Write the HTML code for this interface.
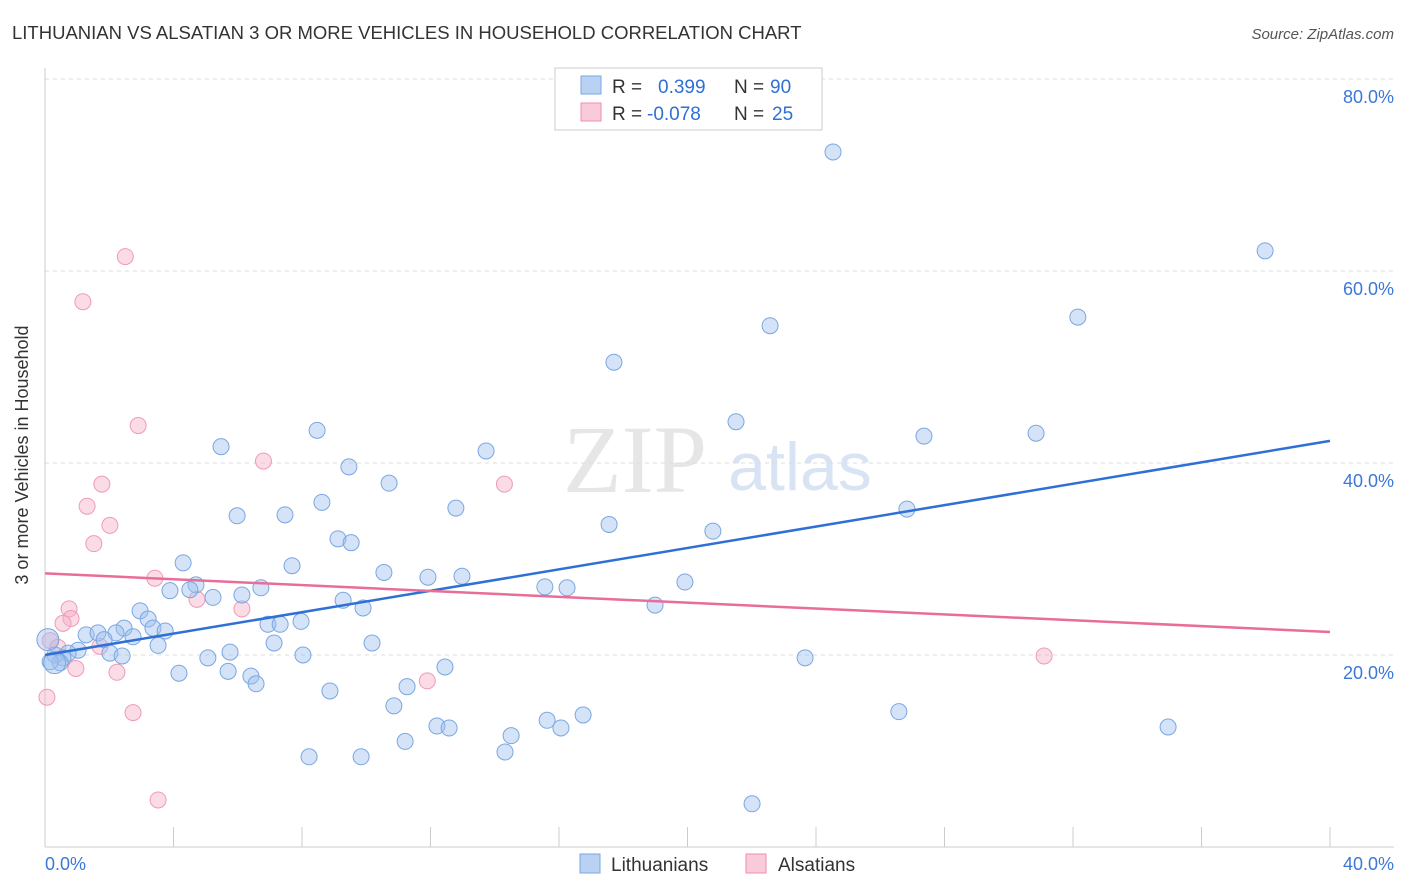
<!DOCTYPE html>
<html><head><meta charset="utf-8"><style>
body{margin:0;background:#fff;font-family:"Liberation Sans",sans-serif;}
svg{display:block}
</style></head><body>
<svg width="1406" height="892" xmlns="http://www.w3.org/2000/svg" id="chart">
<text x="12" y="39" font-size="18.5" fill="#333">LITHUANIAN VS ALSATIAN 3 OR MORE VEHICLES IN HOUSEHOLD CORRELATION CHART</text>
<text x="1394" y="39" font-size="15" fill="#555" font-style="italic" text-anchor="end">Source: ZipAtlas.com</text>
<text x="635" y="492" font-size="96" fill="#e6e6e6" font-family="Liberation Serif,serif" text-anchor="middle">ZIP</text>
<text x="800" y="490" font-size="68" fill="#d8e4f4" text-anchor="middle">atlas</text>
<g id="grid"></g>
<g id="axes"></g>
<g id="pts-pink"></g>
<g id="pts-blue"></g>
<g id="trends"></g>
<text x="28" y="455" font-size="18" fill="#333" text-anchor="middle" transform="rotate(-90 28 455)">3 or more Vehicles in Household</text>
<g>
<rect x="555" y="68" width="267" height="62" fill="#fff" stroke="#ccc"/>
<rect x="581" y="76" width="20" height="18" fill="#b9d1f3" stroke="#7aa7e0"/>
<rect x="581" y="103" width="20" height="18" fill="#f9cbd9" stroke="#f08cb0"/>
<text x="612" y="93" font-size="19" fill="#333">R = <tspan fill="#2f6fd6" x="658">0.399</tspan><tspan x="734" fill="#333">N = </tspan><tspan fill="#2f6fd6" x="770">90</tspan></text>
<text x="612" y="120" font-size="19" fill="#333">R = <tspan fill="#2f6fd6" x="647">-0.078</tspan><tspan x="734" fill="#333">N = </tspan><tspan fill="#2f6fd6" x="772">25</tspan></text>
</g>
<g>
<rect x="580" y="854" width="20" height="19" fill="#b9d1f3" stroke="#7aa7e0"/>
<text x="611" y="871" font-size="19" fill="#333">Lithuanians</text>
<rect x="746" y="854" width="20" height="19" fill="#f9cbd9" stroke="#f08cb0"/>
<text x="778" y="871" font-size="19" fill="#333">Alsatians</text>
</g>
<text x="45" y="870" font-size="18" fill="#3b78d8">0.0%</text>
<text x="1394" y="870" font-size="18" fill="#3b78d8" text-anchor="end">40.0%</text>
</svg>
<script>
const yTicks=[20,40,60,80];
const blueX=[24.53,37.98,22.57,32.15,17.71,21.51,27.36,30.85,8.47,5.48,13.73,9.46,10.71,5.98,7.47,8.62,12.79,17.56,20.79,26.83,9.12,9.53,4.3,7.69,10.55,11.92,12.98,15.56,16.25,19.92,4.7,3.89,4.51,5.23,6.13,6.72,9.28,9.9,18.99,2.96,3.21,2.46,3.36,3.74,6.94,7.32,7.97,1.28,1.65,2.21,1.84,2.74,3.52,5.76,7.13,10.18,5.07,8.03,2.02,2.4,1.03,0.72,0.56,0.31,0.47,0.16,23.66,4.17,5.7,6.41,6.57,8.87,12.45,11.27,10.86,26.58,12.2,12.58,15.63,16.06,16.75,34.96,14.51,11.21,14.32,8.22,9.84,22.01,0.09,0.3];
const blueY=[72.4,62.1,54.3,55.2,50.5,44.3,42.8,43.1,43.4,41.7,41.25,39.6,37.9,34.5,34.6,35.9,35.3,33.6,32.9,35.2,32.1,31.7,29.6,29.3,28.6,28.1,28.2,27.1,27.0,27.6,27.3,26.7,26.8,26.0,26.25,27.0,25.7,24.9,25.2,24.6,23.75,22.8,22.8,22.5,23.2,23.2,23.5,22.1,22.3,22.3,21.6,21.9,21.0,20.3,21.25,21.25,19.7,20.0,20.2,19.9,20.5,20.2,19.7,20.0,19.2,19.3,19.7,18.1,18.3,17.8,17.0,16.25,18.75,16.7,14.7,14.1,12.6,12.4,13.2,12.4,13.75,12.5,11.6,11.0,9.9,9.4,9.4,4.5,21.6,19.2];
const blueR=[8,8,8,8,8,8,8,8,8,8,8,8,8,8,8,8,8,8,8,8,8,8,8,8,8,8,8,8,8,8,8,8,8,8,8,8,8,8,8,8,8,8,8,8,8,8,8,8,8,8,8,8,8,8,8,8,8,8,8,8,8,8,8,8,8,8,8,8,8,8,8,8,8,8,8,8,8,8,8,8,8,8,8,8,8,8,8,8,11,11];
const pinkX=[2.5,1.18,2.9,6.8,1.77,14.3,1.31,2.02,1.52,3.42,4.73,6.13,0.75,0.81,0.56,0.16,0.4,1.71,0.96,2.24,11.9,31.1,2.74,3.52,0.06];
const pinkY=[61.5,56.8,43.9,40.2,37.8,37.8,35.5,33.5,31.6,28.0,25.8,24.8,24.8,23.8,23.3,21.5,20.8,20.9,18.6,18.2,17.3,19.9,14,4.9,15.6];
const trendBlue=[20.0,42.3];
const trendPink=[28.5,22.4];
const xDomain=[0,40];
const NS="http://www.w3.org/2000/svg";
const X=v=>45+(v-xDomain[0])/(xDomain[1]-xDomain[0])*1285;
const Y=v=>847-v*9.6;
function mk(t,a,p){const e=document.createElementNS(NS,t);for(const k in a)e.setAttribute(k,a[k]);document.getElementById(p).appendChild(e);return e;}
yTicks.forEach(t=>{
 const l=mk('line',{x1:45,x2:1394,y1:Y(t),y2:Y(t),stroke:'#ddd','stroke-dasharray':'4,4'},'grid');
 
 
 const tx=mk('text',{x:1394,y:Y(t)+24,'font-size':18,fill:'#3b78d8','text-anchor':'end'},'grid');
 tx.textContent=t.toFixed(1)+'%';
 
 
});
mk('line',{x1:45,x2:45,y1:68,y2:847,stroke:'#ccc'},'axes');
mk('line',{x1:45,x2:1394,y1:847,y2:847,stroke:'#ccc'},'axes');
for(let i=0;i<=10;i++){const xx=X(i*4);const t=mk('line',{x1:xx,x2:xx,y1:827,y2:847,stroke:'#ccc'},'axes');
 
 }
pinkX.forEach((v,i)=>{const c=mk('circle',{cx:X(v),cy:Y(pinkY[i]),r:8,fill:'rgba(245,175,200,0.45)',stroke:'#f09ab8','stroke-width':1},'pts-pink');
 
 });
blueX.forEach((v,i)=>{const c=mk('circle',{cx:X(v),cy:Y(blueY[i]),r:blueR[i]||8,fill:'rgba(160,192,238,0.45)',stroke:'#7aa7e0','stroke-width':1},'pts-blue');
 
 });
const tb=mk('line',{x1:X(0),y1:Y(trendBlue[0]),x2:X(40),y2:Y(trendBlue[1]),stroke:'#2f6fd6','stroke-width':2.5},'trends');


const tp=mk('line',{x1:X(0),y1:Y(trendPink[0]),x2:X(40),y2:Y(trendPink[1]),stroke:'#e86d98','stroke-width':2.5},'trends');


</script>
</body></html>
